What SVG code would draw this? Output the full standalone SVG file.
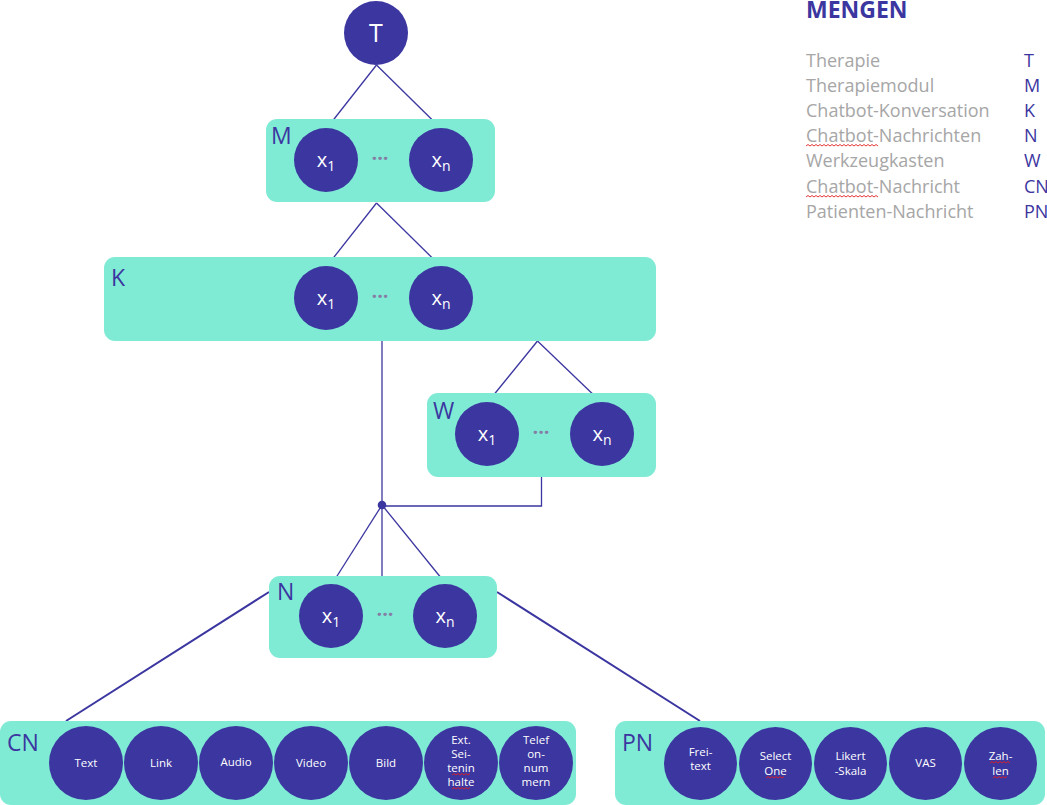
<svg xmlns="http://www.w3.org/2000/svg" width="1047" height="805" viewBox="0 0 1047 805">
<style>
.box{fill:#80ebd5}
.c{fill:#3b36a0}
.lbl{font-family:"Open Sans","Noto Sans",sans-serif;font-size:23px;fill:#3b36a0}
.x{font-family:"Open Sans","Noto Sans",sans-serif;font-size:20px;fill:#ffffff;text-anchor:middle}
.dots{font-family:"Open Sans","Noto Sans",sans-serif;font-size:20px;font-weight:bold;fill:#857fa6;text-anchor:middle}
.s{font-family:"Open Sans","Noto Sans",sans-serif;font-size:11.5px;fill:#ffffff;text-anchor:middle}
.ln{stroke:#3b36a0;stroke-width:1.3;fill:none}
.lnb{stroke:#3b36a0;stroke-width:2;fill:none}
.lg{font-family:"Open Sans","Noto Sans",sans-serif;font-size:18px;fill:#a6a6a6}
.lk{font-family:"Open Sans","Noto Sans",sans-serif;font-size:18px;fill:#3b36a0}
.sq{stroke:#e02020;stroke-width:0.9;fill:none}
</style>

<g id="connectors">
<line class="ln" x1="376.5" y1="65" x2="327" y2="128"/>
<line class="ln" x1="376.5" y1="65" x2="440.5" y2="128"/>
<line class="ln" x1="376.5" y1="203" x2="327" y2="266"/>
<line class="ln" x1="376.5" y1="203" x2="440.5" y2="266"/>
<line class="ln" x1="537.5" y1="341" x2="488" y2="402"/>
<line class="ln" x1="537.5" y1="341" x2="601" y2="402"/>
<line class="ln" x1="382" y1="341" x2="382" y2="576"/>
<polyline class="ln" points="541.5,477 541.5,506 382,506"/>
<line class="ln" x1="382" y1="505" x2="332" y2="584"/>
<line class="ln" x1="382" y1="505" x2="446" y2="584"/>
<circle cx="382" cy="505" r="4.3" fill="#3b36a0"/>
<line class="lnb" x1="269" y1="592" x2="66" y2="721"/>
<line class="lnb" x1="497" y1="592" x2="700" y2="721"/>
</g>

<g id="T">
<circle class="c" cx="376" cy="33" r="32"/>
<text x="376" y="42" class="x" style="font-size:25px">T</text>
</g>

<g id="M">
<rect class="box" x="266" y="119" width="229" height="83" rx="11"/>
<text x="271" y="144" class="lbl">M</text>
<circle class="c" cx="326" cy="160" r="32"/>
<circle class="c" cx="441" cy="160" r="32"/>
<text x="326" y="167" class="x">x<tspan dy="4" font-size="14">1</tspan></text>
<text x="441" y="167" class="x">x<tspan dy="4" font-size="14">n</tspan></text>
<text x="380" y="160" class="dots">...</text>
</g>

<g id="K">
<rect class="box" x="104" y="257" width="552" height="84" rx="11"/>
<text x="111" y="286" class="lbl">K</text>
<circle class="c" cx="326" cy="298" r="32"/>
<circle class="c" cx="441" cy="298" r="32"/>
<text x="326" y="305" class="x">x<tspan dy="4" font-size="14">1</tspan></text>
<text x="441" y="305" class="x">x<tspan dy="4" font-size="14">n</tspan></text>
<text x="380" y="298" class="dots">...</text>
</g>

<g id="W">
<rect class="box" x="427" y="393" width="229" height="84" rx="11"/>
<text x="433" y="419" class="lbl">W</text>
<circle class="c" cx="487" cy="434" r="32"/>
<circle class="c" cx="602" cy="434" r="32"/>
<text x="487" y="441" class="x">x<tspan dy="4" font-size="14">1</tspan></text>
<text x="602" y="441" class="x">x<tspan dy="4" font-size="14">n</tspan></text>
<text x="541" y="434" class="dots">...</text>
</g>

<g id="N">
<rect class="box" x="269" y="576" width="228" height="82" rx="11"/>
<text x="277" y="600" class="lbl">N</text>
<circle class="c" cx="331" cy="616" r="32"/>
<circle class="c" cx="445" cy="616" r="32"/>
<text x="331" y="623" class="x">x<tspan dy="4" font-size="14">1</tspan></text>
<text x="445" y="623" class="x">x<tspan dy="4" font-size="14">n</tspan></text>
<text x="385" y="616" class="dots">...</text>
</g>

<g id="CN">
<rect class="box" x="0" y="721" width="576" height="84" rx="11"/>
<text x="7" y="751" class="lbl">CN</text>
<circle class="c" cx="86" cy="763" r="37"/>
<circle class="c" cx="161" cy="763" r="37"/>
<circle class="c" cx="236" cy="763" r="37"/>
<circle class="c" cx="311" cy="763" r="37"/>
<circle class="c" cx="386" cy="763" r="37"/>
<circle class="c" cx="461" cy="763" r="37"/>
<circle class="c" cx="536" cy="763" r="37"/>
<text x="86" y="767" class="s">Text</text>
<text x="161" y="767" class="s">Link</text>
<text x="236" y="766" class="s">Audio</text>
<text x="311" y="767" class="s">Video</text>
<text x="386" y="767" class="s">Bild</text>
<text class="s"><tspan x="461" y="744">Ext.</tspan><tspan x="461" y="758">Sei-</tspan><tspan x="461" y="772">tenin</tspan><tspan x="461" y="786">halte</tspan></text>
<text class="s"><tspan x="536" y="744">Telef</tspan><tspan x="536" y="758">on-</tspan><tspan x="536" y="772">num</tspan><tspan x="536" y="786">mern</tspan></text>
<path class="sq" d="M452,775 l2,-1.5 l2,1.5 l2,-1.5 l2,1.5 l2,-1.5 l2,1.5 l2,-1.5 l2,1.5 l2,-1.5"/>
<path class="sq" d="M452,789 l2,-1.5 l2,1.5 l2,-1.5 l2,1.5 l2,-1.5 l2,1.5 l2,-1.5 l2,1.5 l2,-1.5"/>
</g>

<g id="PN">
<rect class="box" x="615" y="721" width="430" height="84" rx="11"/>
<text x="622" y="751" class="lbl">PN</text>
<circle class="c" cx="700.5" cy="763.5" r="36.5"/>
<circle class="c" cx="775.5" cy="763.5" r="36.5"/>
<circle class="c" cx="850.5" cy="763.5" r="36.5"/>
<circle class="c" cx="925.5" cy="763.5" r="36.5"/>
<circle class="c" cx="1000.5" cy="763.5" r="36.5"/>
<text class="s"><tspan x="700.5" y="756">Frei-</tspan><tspan x="700.5" y="770">text</tspan></text>
<text class="s"><tspan x="775.5" y="760">Select</tspan><tspan x="775.5" y="775">One</tspan></text>
<text class="s"><tspan x="850.5" y="760">Likert</tspan><tspan x="850.5" y="775">-Skala</tspan></text>
<text x="925.5" y="767" class="s">VAS</text>
<text class="s"><tspan x="1000.5" y="760">Zah-</tspan><tspan x="1000.5" y="775">len</tspan></text>
<path class="sq" d="M766,778 l2,-1.5 l2,1.5 l2,-1.5 l2,1.5 l2,-1.5 l2,1.5 l2,-1.5 l2,1.5 l2,-1.5"/>
<path class="sq" d="M990,763 l2,-1.5 l2,1.5 l2,-1.5 l2,1.5 l2,-1.5 l2,1.5 l2,-1.5 l2,1.5 l2,-1.5 l2,1.5"/>
<path class="sq" d="M993,778 l2,-1.5 l2,1.5 l2,-1.5 l2,1.5 l2,-1.5 l2,1.5 l2,-1.5"/>
</g>

<g id="legend">
<text x="806" y="18" font-family="Open Sans, Noto Sans, sans-serif" font-size="23" font-weight="bold" fill="#3b36a0">MENGEN</text>
<text x="806" y="67" class="lg">Therapie</text>
<text x="806" y="92" class="lg">Therapiemodul</text>
<text x="806" y="117" class="lg">Chatbot-Konversation</text>
<text x="806" y="142" class="lg">Chatbot-Nachrichten</text>
<text x="806" y="167" class="lg">Werkzeugkasten</text>
<text x="806" y="193" class="lg">Chatbot-Nachricht</text>
<text x="806" y="218" class="lg">Patienten-Nachricht</text>
<text x="1024" y="67" class="lk">T</text>
<text x="1024" y="92" class="lk">M</text>
<text x="1024" y="117" class="lk">K</text>
<text x="1024" y="142" class="lk">N</text>
<text x="1024" y="167" class="lk">W</text>
<text x="1024" y="193" class="lk">CN</text>
<text x="1024" y="218" class="lk">PN</text>
<path class="sq" d="M806,146 l2,-1.5 l2,1.5 l2,-1.5 l2,1.5 l2,-1.5 l2,1.5 l2,-1.5 l2,1.5 l2,-1.5 l2,1.5 l2,-1.5 l2,1.5 l2,-1.5 l2,1.5 l2,-1.5 l2,1.5 l2,-1.5 l2,1.5 l2,-1.5 l2,1.5 l2,-1.5 l2,1.5 l2,-1.5 l2,1.5 l2,-1.5 l2,1.5 l2,-1.5 l2,1.5 l2,-1.5 l2,1.5 l2,-1.5 l2,1.5 l2,-1.5 l2,1.5 l2,-1.5 l2,1.5"/>
<path class="sq" d="M806,197 l2,-1.5 l2,1.5 l2,-1.5 l2,1.5 l2,-1.5 l2,1.5 l2,-1.5 l2,1.5 l2,-1.5 l2,1.5 l2,-1.5 l2,1.5 l2,-1.5 l2,1.5 l2,-1.5 l2,1.5 l2,-1.5 l2,1.5 l2,-1.5 l2,1.5 l2,-1.5 l2,1.5 l2,-1.5 l2,1.5 l2,-1.5 l2,1.5 l2,-1.5 l2,1.5 l2,-1.5 l2,1.5 l2,-1.5 l2,1.5 l2,-1.5 l2,1.5 l2,-1.5 l2,1.5"/>
</g>
</svg>
